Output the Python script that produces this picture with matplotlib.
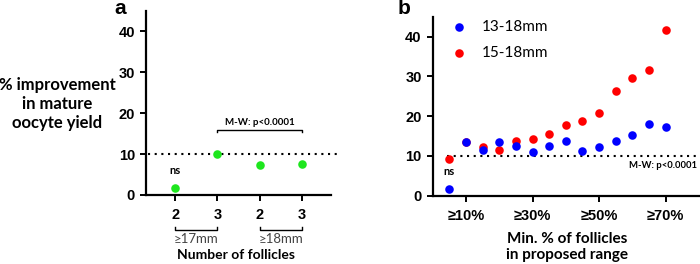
import matplotlib
matplotlib.use("Agg")
import matplotlib.pyplot as plt

# Panel a data
a_positions = [1, 2, 3, 4]
a_ticklabels = ["2", "3", "2", "3"]
a_values = [1.6, 10.0, 7.3, 7.6]
a_groups = ["≥17mm", "≥18mm"]

# Panel b data
b_thresholds = [5, 10, 15, 20, 25, 30, 35, 40, 45, 50, 55, 60, 65, 70]
b_blue = [1.7, 13.4, 11.5, 13.4, 12.4, 11.1, 12.5, 13.7, 11.3, 12.2, 13.7, 15.2, 18.0, 17.2]
b_red = [9.2, 13.6, 12.2, 11.6, 13.7, 14.3, 15.5, 17.8, 18.9, 20.7, 26.2, 29.6, 31.7, 41.7]
b_ticks = [10, 30, 50, 70]
b_ticklabels = ["≥10%", "≥30%", "≥50%", "≥70%"]
series_names = ["13-18mm", "15-18mm"]

GREEN = "#1ee61e"
BLUE = "#0000ff"
RED = "#ff0000"
LABEL_FONT = ["Lato", "DejaVu Sans"]
TICK_FONT = "Liberation Sans"

fig = plt.figure(figsize=(7.0, 2.64), dpi=100)

def style_axes(ax):
    for s in ["top", "right"]:
        ax.spines[s].set_visible(False)
    for s in ["left", "bottom"]:
        ax.spines[s].set_linewidth(1.6)
    ax.tick_params(direction="out", length=4.5, width=1.4, labelsize=10.5)
    ax.set_ylim(0, 45)
    ax.set_yticks([0, 10, 20, 30, 40])
    for lab in ax.get_yticklabels() + ax.get_xticklabels():
        lab.set_fontfamily(TICK_FONT)
        lab.set_fontweight("bold")

# ---- Panel a ----
axa = fig.add_axes([146/700, 1-195/264, (331-146)/700, (195-11)/264])
axa.scatter(a_positions, a_values, s=38, color=GREEN, zorder=3, linewidths=0)
axa.set_xlim(0.3, 4.7)
axa.set_xticks(a_positions)
axa.set_xticklabels(a_ticklabels)
style_axes(axa)
axa.tick_params(axis="x", pad=5)
axa.plot([0.35, 4.85], [10, 10], ls=(0, (1, 2.2)), color="black", lw=1.5, clip_on=False, zorder=2)
axa.text(a_positions[0], a_values[0] + 3.0, "ns", ha="center", va="bottom", fontsize=8,
         family=LABEL_FONT, fontweight="bold")
# bracket
yb = 15.8
axa.plot([2, 2, 4, 4], [yb - 0.5, yb, yb, yb - 0.5], color="black", lw=1.0)
axa.text(3, yb + 0.9, "M-W: p<0.0001", ha="center", va="bottom", fontsize=7,
         family=LABEL_FONT, fontweight="bold")
# group brackets below axis
trans = axa.get_xaxis_transform()
for (x0, x1), g in zip([(1, 2), (3, 4)], a_groups):
    axa.plot([x0, x0, x1, x1], [-0.175, -0.19, -0.19, -0.175], color="black", lw=1.0,
             transform=trans, clip_on=False)
    axa.text((x0 + x1) / 2, -0.205, g, ha="center", va="top", fontsize=9.5, color="#444444",
             transform=trans, family=LABEL_FONT)
fig.text(236/700, 1-255/264, "Number of follicles", ha="center", va="center", fontsize=10,
         fontweight="bold", family=LABEL_FONT)
fig.text(57/700, 1-104/264, "% improvement\nin mature\noocyte yield", ha="center", va="center",
         fontsize=12, fontweight="bold", family=LABEL_FONT, linespacing=1.2)
fig.text(120/700, 1-9/264, "a", fontsize=15, fontweight="bold", ha="center", va="center",
         family=TICK_FONT)

# ---- Panel b ----
axb = fig.add_axes([432.7/700, 1-195.7/264, (699-432.7)/700, (195.7-16.7)/264])
hr = axb.scatter(b_thresholds, b_red, s=38, color=RED, zorder=3, linewidths=0, label=series_names[1])
hb = axb.scatter(b_thresholds, b_blue, s=38, color=BLUE, zorder=4, linewidths=0, label=series_names[0])
axb.set_xlim(0, 80)
axb.set_xticks(b_ticks)
axb.set_xticklabels(b_ticklabels)
style_axes(axb)
axb.tick_params(axis="x", pad=5)
axb.plot([4.3, 80], [10, 10], ls=(0, (1, 2.2)), color="black", lw=1.5, clip_on=False, zorder=2)
axb.text(79.5, 8.6, "M-W: p<0.0001", ha="right", va="top", fontsize=6.8, family=LABEL_FONT,
         fontweight="bold")
axb.text(b_thresholds[0], b_blue[0] + 3.0, "ns", ha="center", va="bottom", fontsize=8,
         family=LABEL_FONT, fontweight="bold")
leg = axb.legend(handles=[hb, hr], loc="upper left", bbox_to_anchor=(0.0, 1.04), frameon=False,
                 handletextpad=0.5, labelspacing=0.75, borderaxespad=0.3,
                 prop={"family": LABEL_FONT, "size": 11})
fig.text(567/700, 1-247/264, "Min. % of follicles\nin proposed range", ha="center", va="center",
         fontsize=11, fontweight="bold", family=LABEL_FONT, linespacing=1.1)
fig.text(404/700, 1-9/264, "b", fontsize=15, fontweight="bold", ha="center", va="center",
         family=TICK_FONT)

fig.savefig("out.png", dpi=100)
